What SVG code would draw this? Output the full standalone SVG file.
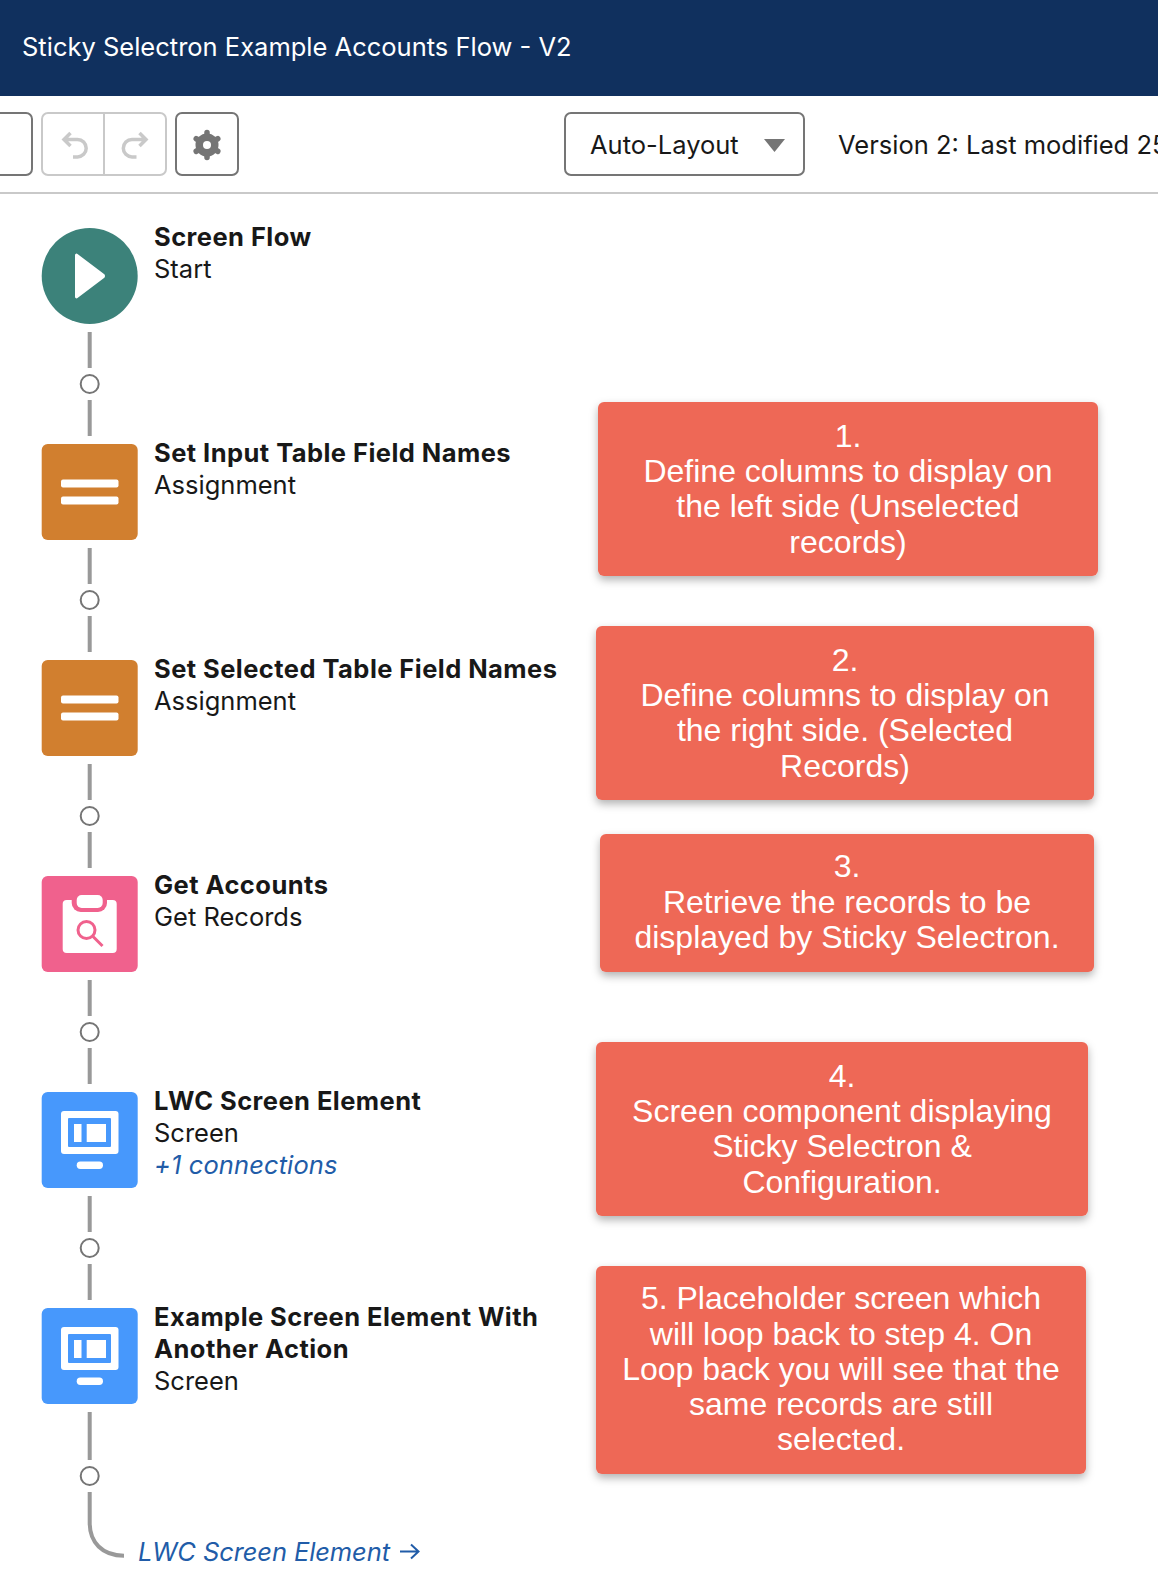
<svg xmlns="http://www.w3.org/2000/svg" width="1158" height="1578" viewBox="0 0 1158 1578">
<defs>
<style>
.ui{font-family:Inter,"Noto Sans","Liberation Sans",sans-serif;font-size:25.5px;fill:#181818}
.b{font-weight:700;letter-spacing:.45px}
.lnk{font-style:italic;fill:#215ca8}
.note{font-family:"Liberation Sans",Arial,sans-serif;font-size:32px;fill:#fff;text-anchor:middle}
.box{fill:#ee6757;filter:url(#sh)}
.conn{fill:none;stroke:#999;stroke-width:4}
.dot{fill:#fff;stroke:#757575;stroke-width:2}
.btn{fill:#fff;stroke:#757575;stroke-width:2}
.off{fill:none;stroke:#c9c9c9;stroke-width:2}
.w{fill:#fff}
</style>
<filter id="sh" x="-5%" y="-10%" width="110%" height="125%"><feDropShadow dx="0" dy="4" stdDeviation="4" flood-color="#000" flood-opacity=".3"/></filter>
</defs>
<rect width="1158" height="1578" fill="#fff"/>
<g id="header"><rect width="1158" height="96" fill="#10305e"/>
<text x="22" y="56" class="ui" style="fill:#fff">Sticky Selectron Example Accounts Flow - V2</text></g>
<g id="toolbar">
<rect x="-20" y="113" width="52" height="62" rx="6" class="btn"/>
<rect x="42" y="113" width="124" height="62" rx="6" class="off"/>
<path d="M104 113V175" class="off"/>
<path d="M64 139.500H77.500a8.700 8.700 0 0 1 0 17.400H73M70.500 133L64 139.500L70.500 146" fill="none" stroke="#c9c9c9" stroke-width="3.500"/>
<path d="M146 139.500H132a8.700 8.700 0 0 0 0 17.400H136.500M139.500 133L146 139.500L139.500 146" fill="none" stroke="#c9c9c9" stroke-width="3.500"/>
<rect x="176" y="113" width="62" height="62" rx="6" class="btn"/>
<g id="gear" fill="#757575"><circle cx="207" cy="145" r="8" fill="none" stroke="#757575" stroke-width="7"/><path d="M207 132.500v25M196.200 138.750l21.600 12.500M196.200 151.250l21.600-12.500" stroke="#757575" stroke-width="5.500" stroke-linecap="round"/><circle cx="207" cy="145" r="6" fill="#757575"/><circle cx="207" cy="145" r="4" fill="#fff"/></g>
<rect x="565" y="113" width="239" height="62" rx="6" class="btn"/>
<text x="590" y="154" class="ui">Auto-Layout</text>
<path d="M764 139H785L774.500 152Z" fill="#757575"/>
<text x="838" y="154" class="ui">Version 2: Last modified 25</text>
<rect y="192" width="1158" height="2" fill="#c9c9c9"/>
</g>
<g id="connectors">
<path class="conn" d="M89.700 332V368M89.700 400V436M89.700 548V584M89.700 616V652M89.700 764V800M89.700 832V868M89.700 980V1016M89.700 1048V1084M89.700 1196V1232M89.700 1264V1300M89.700 1412V1460M89.700 1492V1523C89.700 1542 102 1555.700 124 1555.700"/>
<circle class="dot" cx="89.700" cy="384" r="9"/><circle class="dot" cx="89.700" cy="600" r="9"/><circle class="dot" cx="89.700" cy="816" r="9"/><circle class="dot" cx="89.700" cy="1032" r="9"/><circle class="dot" cx="89.700" cy="1248" r="9"/><circle class="dot" cx="89.700" cy="1476" r="9"/>
</g>
<g id="n-start"><circle cx="89.700" cy="276" r="48" fill="#3c827a"/><path d="M75 255a1.500 1.500 0 0 1 2.500-1L104 274a2.500 2.500 0 0 1 0 4L77.500 298a1.500 1.500 0 0 1-2.500-1Z" class="w"/>
<text x="154" y="246" class="ui b">Screen Flow</text><text x="154" y="278" class="ui">Start</text></g>
<g id="n-assign1"><rect x="41.700" y="444" width="96" height="96" rx="6" fill="#d17f2f"/><rect x="61" y="479.500" width="57.500" height="8" rx="2" class="w"/><rect x="61" y="496.500" width="57.500" height="8" rx="2" class="w"/>
<text x="154" y="462" class="ui b">Set Input Table Field Names</text><text x="154" y="494" class="ui">Assignment</text></g>
<g id="n-assign2"><rect x="41.700" y="660" width="96" height="96" rx="6" fill="#d17f2f"/><rect x="61" y="695.500" width="57.500" height="8" rx="2" class="w"/><rect x="61" y="712.500" width="57.500" height="8" rx="2" class="w"/>
<text x="154" y="678" class="ui b">Set Selected Table Field Names</text><text x="154" y="710" class="ui">Assignment</text></g>
<g id="n-get"><rect x="41.700" y="876" width="96" height="96" rx="6" fill="#f0618d"/>
<rect x="62.700" y="900" width="54" height="53" rx="4" class="w"/><path d="M71.700 900h35.300v3a9 9 0 0 1-9 9H80.700a9 9 0 0 1-9-9Z" fill="#f0618d"/><rect x="76.700" y="895" width="26" height="13" rx="5" class="w"/>
<circle cx="86.500" cy="930" r="8.500" fill="none" stroke="#f0618d" stroke-width="3"/><path d="M93 936.500L102.500 946" stroke="#f0618d" stroke-width="3"/>
<text x="154" y="894" class="ui b">Get Accounts</text><text x="154" y="926" class="ui">Get Records</text></g>
<g id="n-lwc"><rect x="41.700" y="1092" width="96" height="96" rx="6" fill="#4798fc"/>
<rect x="61" y="1111" width="57.500" height="43" rx="3" class="w"/><rect x="68" y="1118" width="43" height="29" rx="1" fill="#4798fc"/><rect x="74" y="1124" width="7.500" height="18" class="w"/><rect x="86.700" y="1124" width="19.300" height="18" class="w"/><rect x="76.700" y="1161.500" width="26.300" height="7.500" rx="3.700" class="w"/>
<text x="154" y="1110" class="ui b">LWC Screen Element</text><text x="154" y="1142" class="ui">Screen</text><text x="154" y="1174" class="ui lnk" style="letter-spacing:.1px">+1 connections</text></g>
<g id="n-example"><rect x="41.700" y="1308" width="96" height="96" rx="6" fill="#4798fc"/>
<rect x="61" y="1327" width="57.500" height="43" rx="3" class="w"/><rect x="68" y="1334" width="43" height="29" rx="1" fill="#4798fc"/><rect x="74" y="1340" width="7.500" height="18" class="w"/><rect x="86.700" y="1340" width="19.300" height="18" class="w"/><rect x="76.700" y="1377.500" width="26.300" height="7.500" rx="3.700" class="w"/>
<text x="154" y="1326" class="ui b">Example Screen Element With</text><text x="154" y="1358" class="ui b">Another Action</text><text x="154" y="1390" class="ui">Screen</text></g>
<g id="goto"><text x="138" y="1561" class="ui lnk" style="letter-spacing:-.1px">LWC Screen Element</text><path d="M400 1551.500H418M411 1544.500L418.500 1551.500L411 1558.500" fill="none" stroke="#215ca8" stroke-width="2"/></g>
<g id="note1"><rect x="598" y="402" width="500" height="174" rx="6" class="box"/><text class="note"><tspan x="848" y="447">1.</tspan><tspan x="848" y="482">Define columns to display on</tspan><tspan x="848" y="517">the left side (Unselected</tspan><tspan x="848" y="553">records)</tspan></text></g>
<g id="note2"><rect x="596" y="626" width="498" height="174" rx="6" class="box"/><text class="note"><tspan x="845" y="671">2.</tspan><tspan x="845" y="706">Define columns to display on</tspan><tspan x="845" y="741">the right side. (Selected</tspan><tspan x="845" y="777">Records)</tspan></text></g>
<g id="note3"><rect x="600" y="834" width="494" height="138" rx="6" class="box"/><text class="note"><tspan x="847" y="877">3.</tspan><tspan x="847" y="913">Retrieve the records to be</tspan><tspan x="847" y="948">displayed by Sticky Selectron.</tspan></text></g>
<g id="note4"><rect x="596" y="1042" width="492" height="174" rx="6" class="box"/><text class="note"><tspan x="842" y="1087">4.</tspan><tspan x="842" y="1122">Screen component displaying</tspan><tspan x="842" y="1157">Sticky Selectron &amp;</tspan><tspan x="842" y="1193">Configuration.</tspan></text></g>
<g id="note5"><rect x="596" y="1266" width="490" height="208" rx="6" class="box"/><text class="note"><tspan x="841" y="1309">5. Placeholder screen which</tspan><tspan x="841" y="1345">will loop back to step 4. On</tspan><tspan x="841" y="1380">Loop back you will see that the</tspan><tspan x="841" y="1415">same records are still</tspan><tspan x="841" y="1450">selected.</tspan></text></g>
</svg>
